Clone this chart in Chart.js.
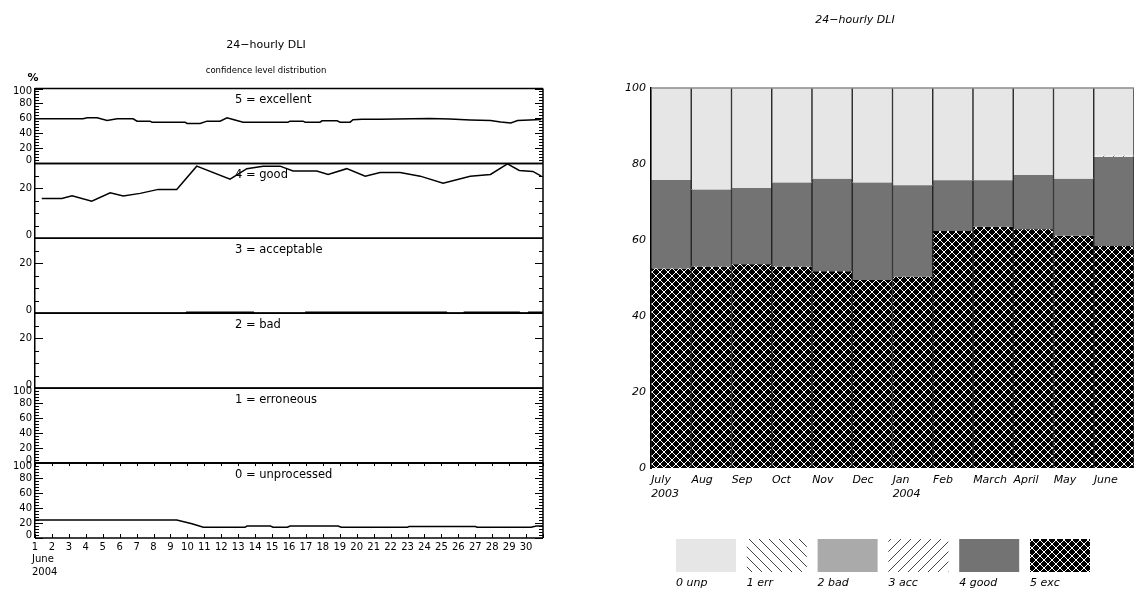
<!DOCTYPE html>
<html>
<head>
<meta charset="utf-8">
<title>24-hourly DLI</title>
<script src="https://cdn.jsdelivr.net/npm/chart.js@4.4.1/dist/chart.umd.min.js"></script>
<style>
  html, body { margin: 0; padding: 0; background: #fff; }
  body { width: 1134px; height: 592px; position: relative; overflow: hidden; font-family: "DejaVu Sans", sans-serif; }
  .box { position: absolute; top: 0; height: 592px; }
  #dayBox { left: 0; width: 560px; }
  #monthBox { left: 580px; width: 554px; }
  .txt { position: absolute; transform: translate(-50%, -50%); white-space: nowrap; color: #000; }
  .it { font-style: italic; }
</style>
</head>
<body>
<div class="box" id="dayBox"><canvas id="dayChart"></canvas></div>
<div class="box" id="monthBox"><canvas id="monthChart"></canvas></div>
<div class="txt" style="left:266px; top:44px; font-size:11px;">24−hourly DLI</div>
<div class="txt" style="left:266px; top:70px; font-size:8.5px;">confidence level distribution</div>
<div class="txt" style="left:33px; top:77px; font-size:11px; font-weight:bold;">%</div>
<div class="txt it" style="left:855px; top:19px; font-size:11px;">24−hourly DLI</div>
<script>
(function () {
  "use strict";

  // ---- June 2004, daily share per confidence level (%) ----
  const excDays = [1, 3.84, 4.08, 4.67, 5.26, 5.85, 6.79, 7.03, 7.79, 7.91, 9.86, 9.98, 10.75, 11.16, 11.93, 12.34, 12.7, 13.29, 15.94, 16.06, 16.83, 16.95, 17.83, 17.95, 18.84, 19.02, 19.61, 19.78, 20.31, 21.38, 24.3, 25.5, 26.7, 27.9, 28.5, 29.1, 29.5, 30.9];
  const excPct  = [59.6, 59.6, 60.9, 60.9, 57.3, 59.6, 59.6, 56.4, 56.4, 55.1, 55.1, 53.3, 53.3, 56.4, 56.4, 60.9, 58.7, 55.1, 55.1, 56.4, 56.4, 55.1, 55.1, 56.9, 56.9, 55.1, 55.1, 58.3, 59.1, 59.1, 60, 59.3, 58, 57.3, 55.3, 54, 57.3, 58.7];

  const goodDays = [1.4, 2.58, 3.19, 4.35, 5.44, 6.21, 7.21, 8.28, 9.37, 10.55, 12.52, 13.51, 14.47, 15.47, 16.24, 17.64, 18.31, 19.41, 20.5, 21.38, 22.56, 23.75, 25.1, 26.7, 27.9, 28.9, 29.6, 30.4, 30.9];
  const goodPct  = [16.0, 16.0, 17.0, 14.9, 18.2, 17.0, 18.0, 19.6, 19.6, 28.9, 23.7, 27.9, 28.9, 28.9, 27.0, 27.0, 25.6, 27.9, 24.9, 26.4, 26.4, 24.9, 22.1, 24.9, 25.6, 29.8, 27.2, 26.8, 24.9];

  const accDays = [1, 9.9, 9.95, 13.9, 13.95, 16.95, 17.0, 25.3, 25.35, 26.3, 26.35, 29.6, 29.65, 30.1, 30.15, 31];
  const accPct  = [0, 0, 0.4, 0.4, 0, 0, 0.4, 0.4, 0, 0, 0.4, 0.4, 0, 0, 0.4, 0.4];

  const badDays = [1, 31];
  const badPct  = [0, 0];
  const errDays = [1, 31];
  const errPct  = [0, 0];

  const unpDays = [1, 9.37, 10.27, 10.94, 13.4, 13.52, 14.9, 15.06, 15.9, 16.07, 18.9, 19.08, 23.0, 23.1, 27.0, 27.1, 30.3, 30.6, 31];
  const unpPct  = [24, 24, 19, 14.3, 14.3, 16, 16, 14.3, 14.3, 16, 16, 14.3, 14.3, 15.5, 15.5, 14.3, 14.3, 16, 16];

  const pctTicksFull = [0, 20, 40, 60, 80, 100];
  const pctTicksLow = [0, 20];

  // ---- July 2003 - June 2004, monthly share per level (%) ----
  const monthLabels = [["July", "2003"], "Aug", "Sep", "Oct", "Nov", "Dec", ["Jan", "2004"], "Feb", "March", "April", "May", "June"];
  const monthExc  = [52.5, 53.0, 53.6, 53.0, 51.8, 49.5, 50.3, 62.4, 63.5, 62.8, 61.1, 58.4];
  const monthGood = [23.3, 20.3, 20.1, 22.1, 24.3, 25.6, 24.1, 13.3, 12.2, 14.3, 15.0, 23.5];
  const monthAcc  = [0, 0, 0, 0, 0, 0, 0, 0, 0, 0, 0, 0.3];
  const monthBad  = [0, 0, 0, 0, 0, 0, 0, 0, 0, 0, 0, 0];
  const monthErr  = [0, 0, 0, 0, 0, 0, 0, 0, 0, 0, 0, 0];
  const monthUnp  = [24.2, 26.7, 26.3, 24.9, 23.9, 24.9, 25.6, 24.3, 24.3, 22.9, 23.9, 17.8];
  const monthTicks = [0, 20, 40, 60, 80, 100];

  const palette = {
    ink: "#000",
    unp: "#e6e6e6",
    bad: "#aaaaaa",
    good: "#737373",
    hatchLine: "#444",
    sep: "#222",
    frameTop: "#8a8a8a"
  };
  const fontFamily = "\"DejaVu Sans\", sans-serif";

  Chart.defaults.font.family = fontFamily;
  Chart.defaults.color = palette.ink;
  Chart.defaults.animation = false;

  function line(ctx, x1, y1, x2, y2) {
    ctx.beginPath();
    ctx.moveTo(x1, y1);
    ctx.lineTo(x2, y2);
    ctx.stroke();
  }

  // no extra room for first/last tick labels
  function fitNoPad(height) {
    return s => {
      s.height = height;
      s.paddingLeft = 0;
      s.paddingRight = 0;
    };
  }

  // ---------- left: six stacked panels ----------
  // listed bottom to top
  const panels = [
    { id: "y0", name: "0 = unprocessed", max: 100, minor: 4, major: 20, ticks: pctTicksFull, days: unpDays, pct: unpPct },
    { id: "y1", name: "1 = erroneous", max: 100, minor: 4, major: 20, ticks: pctTicksFull, days: errDays, pct: errPct },
    { id: "y2", name: "2 = bad", max: 30, minor: 5, major: 20, ticks: pctTicksLow, days: badDays, pct: badPct },
    { id: "y3", name: "3 = acceptable", max: 30, minor: 5, major: 20, ticks: pctTicksLow, days: accDays, pct: accPct },
    { id: "y4", name: "4 = good", max: 30, minor: 5, major: 20, ticks: pctTicksLow, days: goodDays, pct: goodPct },
    { id: "y5", name: "5 = excellent", max: 100, minor: 4, major: 20, ticks: pctTicksFull, days: excDays, pct: excPct }
  ];

  // nudge the edge labels inward so neighbouring panels don't collide
  const panelLabel = v => {
    if (v === 0) return ["0", ""];
    if (v === 100) return ["", "100"];
    return String(v);
  };

  const dayScales = {
    x: {
      type: "linear",
      min: 1,
      max: 31,
      position: "bottom",
      grid: { display: false, drawTicks: false },
      border: { display: false },
      ticks: {
        stepSize: 1,
        autoSkip: false,
        maxRotation: 0,
        padding: 3,
        font: { size: 10 },
        callback: v => v <= 30 ? String(v) : null
      },
      afterFit: fitNoPad(54)
    }
  };

  panels.forEach(p => {
    dayScales[p.id] = {
      type: "linear",
      position: "left",
      stack: "panels",
      stackWeight: 1,
      min: 0,
      max: p.max,
      grid: { display: false, drawTicks: false },
      border: { display: true, color: palette.ink, width: 1.5 },
      afterBuildTicks: s => { s.ticks = p.ticks.map(v => ({ value: v })); },
      ticks: {
        autoSkip: false,
        padding: 3,
        font: { size: 10, lineHeight: 0.6 },
        callback: panelLabel
      },
      afterFit: s => { s.width = 35; }
    };
  });

  const panelFrame = {
    id: "panelFrame",
    afterDatasetsDraw(chart) {
      const { ctx, chartArea } = chart;
      const { left, right, top, bottom } = chartArea;
      ctx.save();
      ctx.strokeStyle = palette.ink;
      ctx.fillStyle = palette.ink;
      panels.forEach(p => {
        const s = chart.scales[p.id];
        ctx.lineWidth = 1.5;
        line(ctx, left, s.top, right, s.top);
        line(ctx, left, s.bottom, right, s.bottom);
        ctx.lineWidth = 1;
        for (let v = 0; v <= p.max; v += p.minor) {
          const y = Math.round(s.getPixelForValue(v)) + 0.5;
          const len = v % p.major === 0 ? 8 : 4;
          line(ctx, left, y, left + len, y);
          line(ctx, right - len, y, right, y);
        }
        ctx.font = `11.5px ${fontFamily}`;
        ctx.textAlign = "left";
        ctx.textBaseline = "middle";
        ctx.fillText(p.name, 235, s.top + 12);
      });
      ctx.lineWidth = 1.5;
      line(ctx, right, top, right, bottom);

      const x = chart.scales.x;
      const base = chart.scales.y0;
      ctx.lineWidth = 1;
      for (let d = 1; d <= 31; d++) {
        const px = Math.round(x.getPixelForValue(d)) + 0.5;
        line(ctx, px, base.bottom, px, base.bottom - 4);
        line(ctx, px, base.top, px, base.top + 3);
      }
      ctx.font = `10px ${fontFamily}`;
      ctx.textAlign = "left";
      ctx.textBaseline = "middle";
      ctx.fillText("June", 32, 559);
      ctx.fillText("2004", 32, 572);
      ctx.restore();
    }
  };

  new Chart(document.getElementById("dayChart"), {
    type: "line",
    data: {
      datasets: panels.map(p => ({
        label: p.name,
        data: p.days.map((d, i) => ({ x: d, y: p.pct[i] })),
        yAxisID: p.id,
        borderColor: palette.ink,
        borderWidth: 1.5,
        pointRadius: 0,
        fill: false,
        tension: 0,
        clip: 3
      }))
    },
    options: {
      responsive: true,
      maintainAspectRatio: false,
      layout: { padding: { top: 88.5, left: 0, right: 17, bottom: 0 } },
      plugins: { legend: { display: false }, tooltip: { enabled: false } },
      events: [],
      scales: dayScales
    },
    plugins: [panelFrame]
  });

  // ---------- right: monthly stacked bars ----------
  const monthCtx = document.getElementById("monthChart").getContext("2d");

  function crossHatch() {
    const n = 8;
    const tile = document.createElement("canvas");
    tile.width = tile.height = n;
    const g = tile.getContext("2d");
    g.fillStyle = "#000";
    g.fillRect(0, 0, n, n);
    g.strokeStyle = "#fff";
    g.lineWidth = 1;
    line(g, -1, -1, n + 1, n + 1);
    line(g, n + 1, -1, -1, n + 1);
    return monthCtx.createPattern(tile, "repeat");
  }

  function hatch(rising) {
    const n = 10;
    const tile = document.createElement("canvas");
    tile.width = tile.height = n;
    const g = tile.getContext("2d");
    g.fillStyle = "#fff";
    g.fillRect(0, 0, n, n);
    g.strokeStyle = palette.hatchLine;
    g.lineWidth = 1;
    if (rising) {
      line(g, -1, n + 1, n + 1, -1);
      line(g, -1, 1, 1, -1);
      line(g, n - 1, n + 1, n + 1, n - 1);
    } else {
      line(g, -1, -1, n + 1, n + 1);
      line(g, n - 1, -1, n + 1, 1);
      line(g, -1, n - 1, 1, n + 1);
    }
    return monthCtx.createPattern(tile, "repeat");
  }

  // stacked bottom to top
  const levels = [
    { label: "5 exc", data: monthExc, fill: crossHatch() },
    { label: "4 good", data: monthGood, fill: palette.good },
    { label: "3 acc", data: monthAcc, fill: hatch(true) },
    { label: "2 bad", data: monthBad, fill: palette.bad },
    { label: "1 err", data: monthErr, fill: hatch(false) },
    { label: "0 unp", data: monthUnp, fill: palette.unp }
  ];

  const levelLegend = {
    id: "levelLegend",
    afterDraw(chart) {
      const { ctx, chartArea } = chart;
      const y = chart.scales.y;
      ctx.save();
      ctx.strokeStyle = palette.frameTop;
      ctx.lineWidth = 1.5;
      const yTop = y.getPixelForValue(100);
      line(ctx, chartArea.left, yTop, chartArea.right, yTop);

      const shown = levels.slice().reverse();
      ctx.font = `italic 11px ${fontFamily}`;
      ctx.textAlign = "left";
      ctx.textBaseline = "middle";
      shown.forEach((lv, i) => {
        const bx = 96 + i * 70.8;
        ctx.fillStyle = lv.fill;
        ctx.fillRect(bx, 539, 60, 33);
        ctx.fillStyle = palette.ink;
        ctx.fillText(lv.label, bx, 583);
      });
      ctx.restore();
    }
  };

  new Chart(monthCtx, {
    type: "bar",
    data: {
      labels: monthLabels,
      datasets: levels.map(lv => ({
        label: lv.label,
        data: lv.data,
        backgroundColor: lv.fill,
        borderColor: palette.sep,
        borderWidth: { left: 1, right: 1, top: 0, bottom: 0 },
        borderSkipped: false,
        barPercentage: 1,
        categoryPercentage: 1
      }))
    },
    options: {
      responsive: true,
      maintainAspectRatio: false,
      layout: { padding: { top: 88, left: 0, right: 0, bottom: 0 } },
      plugins: { legend: { display: false }, tooltip: { enabled: false } },
      events: [],
      scales: {
        x: {
          stacked: true,
          grid: { display: false, drawTicks: false },
          border: { display: false },
          ticks: {
            align: "start",
            labelOffset: -20,
            padding: 5,
            autoSkip: false,
            maxRotation: 0,
            font: { size: 11, style: "italic", lineHeight: 1.3 }
          },
          afterFit: fitNoPad(124)
        },
        y: {
          stacked: true,
          min: 0,
          max: 100,
          grid: { display: false, drawTicks: false },
          border: { display: true, color: palette.ink, width: 2 },
          afterBuildTicks: s => { s.ticks = monthTicks.map(v => ({ value: v })); },
          ticks: { padding: 5, font: { size: 11, style: "italic" } },
          afterFit: s => { s.width = 71; }
        }
      }
    },
    plugins: [levelLegend]
  });
})();
</script>
</body>
</html>
